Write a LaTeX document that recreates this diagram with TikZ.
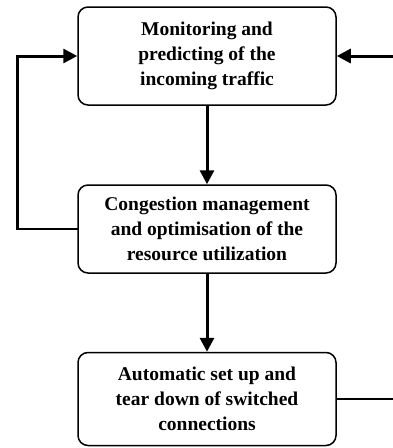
\documentclass[tikz,border=0pt]{standalone}
\usepackage{fontspec}
\setmainfont{Liberation Serif}
\usetikzlibrary{arrows.meta,positioning}

\begin{document}
\begin{tikzpicture}[
  x=1pt, y=-1pt,
  font=\bfseries\fontsize{19.5}{25}\selectfont,
  block/.style={draw, line width=1.5pt, rounded corners=10pt, minimum width=258pt, align=center, inner sep=0pt, fill=white},
  arr/.style={-{Triangle[length=14pt,width=14pt]}, line width=3pt},
  link/.style={line width=2pt, line cap=rect}
]
\useasboundingbox (0,0) rectangle (393,448);
\node[block, minimum height=98pt] (monitor) at (207,56) {Monitoring and\\predicting of the\\incoming traffic};
\node[block, minimum height=88pt] (congest) at (207,229) {Congestion management\\and optimisation of the\\resource utilization};
\node[block, minimum height=93pt] (setup) at (207,399) {Automatic set up and\\tear down of switched\\connections};
\coordinate (loop) at (17,229);
\coordinate (feedin) at (396,56);
\coordinate (setupout) at (396,399);
\draw[arr] (monitor) -- (congest);
\draw[arr] (congest) -- (setup);
\draw[link] (congest.west) -- (loop);
\draw[arr] (loop) |- (monitor.west);
\draw[arr] (feedin) -- (monitor.east);
\draw[link] (setup.east) -- (setupout);
\end{tikzpicture}
\end{document}
